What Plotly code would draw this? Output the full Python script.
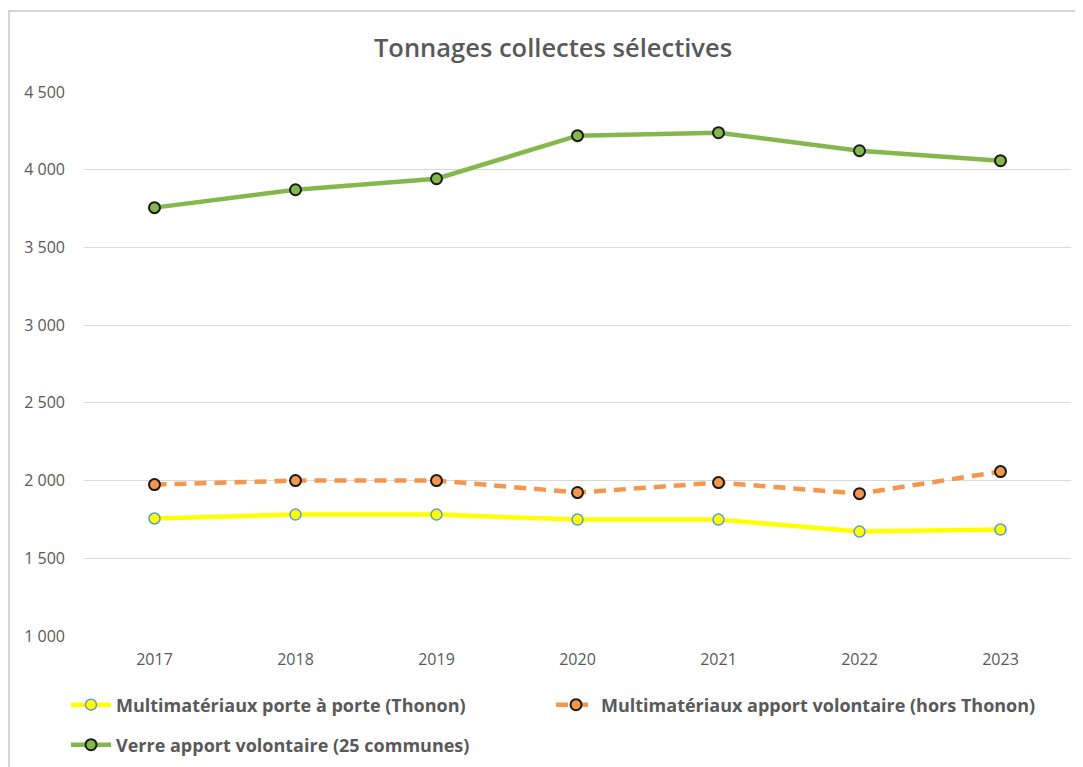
import plotly.graph_objects as go

years = ["2017", "2018", "2019", "2020", "2021", "2022", "2023"]
porte_a_porte = [1756, 1781, 1781, 1749, 1749, 1672, 1685]
apport_volontaire = [1974, 2000, 2000, 1923, 1987, 1916, 2058]
verre = [3756, 3871, 3942, 4219, 4238, 4122, 4058]
names = [
    "Multimatériaux porte à porte (Thonon)",
    "Multimatériaux apport volontaire (hors Thonon)",
    "Verre apport volontaire (25 communes)",
]
y_ticks = [1000, 1500, 2000, 2500, 3000, 3500, 4000, 4500]

FONT = "'Open Sans', sans-serif"
GRAY = "#595959"

OFF = 8  # page body margin: figure origin sits at (8, 8) in the page
FW, FH = 1083 - OFF, 767 - OFF
L, R, T, B = 84 - OFF, 1071 - OFF, 92 - OFF, 636 - OFF
W, H = R - L, B - T


def px(p):
    return (p - OFF - L) / W


def py(q):
    return (B - (q - OFF)) / H


fig = go.Figure()
fig.add_trace(go.Scatter(
    x=years, y=porte_a_porte, name="<b>" + names[0] + "</b>", mode="lines+markers",
    line=dict(color="#FFFF00", width=4.5),
    marker=dict(size=11, color="#FFFF00", line=dict(color="#5B9BD5", width=1.5)),
    legend="legend",
))
fig.add_trace(go.Scatter(
    x=years, y=apport_volontaire, name="<b>" + names[1] + "</b>", mode="lines+markers",
    line=dict(color="#F4964E", width=4.5, dash="12px,8px"),
    marker=dict(size=11, color="#F4964E", line=dict(color="#1a1a1a", width=2)),
    legend="legend2",
))
fig.add_trace(go.Scatter(
    x=years, y=verre, name="<b>" + names[2] + "</b>", mode="lines+markers",
    line=dict(color="#84B84C", width=4.5),
    marker=dict(size=11, color="#84B84C", line=dict(color="#1a1a1a", width=2)),
    legend="legend3",
))

leg_font = dict(size=18, color=GRAY, family=FONT, weight=600)
leg_common = dict(orientation="v", xanchor="left", yanchor="middle",
                  font=leg_font, bgcolor="rgba(0,0,0,0)", itemwidth=40)

fig.update_layout(
    width=FW, height=FH,
    paper_bgcolor="white", plot_bgcolor="white",
    separators=", ",
    margin=dict(l=L, r=FW - R, t=T, b=FH - B, autoexpand=False),
    title=dict(text="Tonnages collectes sélectives", x=px(553), xanchor="center",
               xref="paper", y=1 - (48 - OFF) / FH, yanchor="middle",
               font=dict(family=FONT, size=25.5, color=GRAY, weight=600)),
    font=dict(family=FONT, color=GRAY),
    xaxis=dict(type="category", range=[-0.5, 6.5], showgrid=False, showline=False,
               ticks="", tickfont=dict(size=16, color=GRAY), zeroline=False,
               ticklabelstandoff=12),
    yaxis=dict(range=[1000, 4500], tickvals=y_ticks, tickformat=",d",
               showgrid=True, gridcolor="#D9D9D9", gridwidth=1, zeroline=False,
               showline=False, ticks="", tickfont=dict(size=16, color=GRAY),
               ticklabelstandoff=18),
    legend=dict(x=px(66), y=py(705), **leg_common),
    legend2=dict(x=px(551), y=py(705), **leg_common),
    legend3=dict(x=px(66), y=py(745), **leg_common),
    showlegend=True,
)

# chart frame (only the top and left edges are visible in the reference)
fig.add_shape(type="line", xref="paper", yref="paper",
              x0=px(8), x1=px(1083), y0=py(11), y1=py(11),
              line=dict(color="#D6D6D6", width=2))
fig.add_shape(type="line", xref="paper", yref="paper",
              x0=px(9), x1=px(9), y0=py(11), y1=py(767),
              line=dict(color="#D6D6D6", width=2))

fig.write_html("out.html")
